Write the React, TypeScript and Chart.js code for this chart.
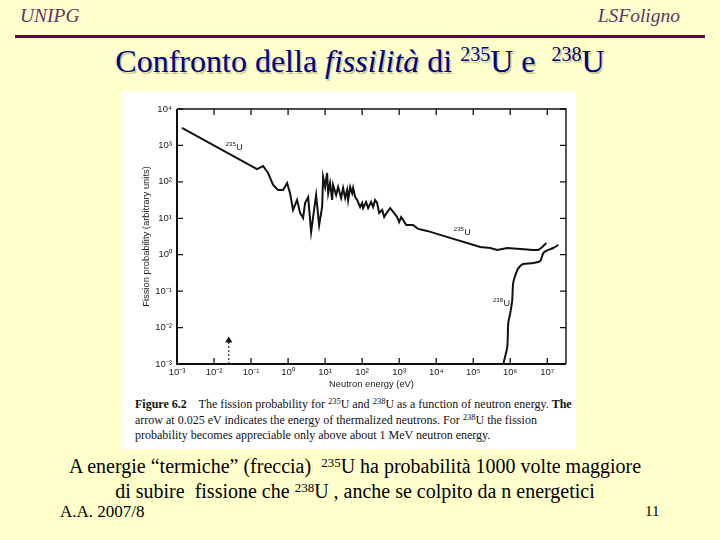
import React, { useEffect, useRef } from "react";
import { Chart, registerables } from "chart.js";

Chart.register(...registerables);

// ---- data (energy in eV, fission probability in arbitrary units) ----
const energyU235 = [1.36e-3, 0.145, 0.211, 0.288, 0.394, 0.537, 0.733, 0.94, 1.13, 1.36, 1.75, 2.11, 2.54, 2.88, 3.48, 4.19, 4.74, 5.71, 6.89, 8.3, 8.83, 10, 11.3, 12.1, 13.6, 15.5, 16.4, 19.8, 22.4, 27, 30.6, 34.8, 39.4, 41.9, 47.4, 53.7, 57.1, 64.7, 73.3, 88.3, 100, 106, 128, 145, 175, 198, 224, 254, 288, 348, 394, 474, 571, 689, 883, 1000, 1130, 1280, 1550, 2390, 3270, 5710, 12800, 1.55e5, 2.88e5, 4.46e5, 8.3e5, 1.86e6, 4.19e6, 5.71e6, 7.33e6, 9.4e6];
const probU235 = [3020, 225, 272, 175, 82, 60, 60, 93, 49, 16.9, 31.8, 14.0, 10.2, 26.3, 38.4, 4.2, 10.8, 43.6, 6.5, 20.4, 136, 72, 175, 49, 93, 31.8, 82, 43.6, 72, 36, 68, 36, 60, 31.8, 72, 49, 68, 38.4, 31.8, 20.4, 26.3, 19.1, 28, 19.1, 28, 20.4, 31.8, 26.3, 14, 16.9, 10.8, 14.9, 19.1, 14.9, 10.8, 7.9, 10.8, 9.0, 6.5, 6.5, 5.1, 4.5, 3.5, 1.63, 1.53, 1.35, 1.53, 1.44, 1.35, 1.35, 1.63, 2.1];

const energyU238 = [6.47e5, 8.3e5, 8.83e5, 1e6, 1.13e6, 1.2e6, 1.55e6, 1.86e6, 2.24e6, 4.19e6, 6.47e6, 7.8e6, 1.06e7, 1.45e7, 1.98e7];
const probU238 = [1e-3, 2.9e-3, 0.0134, 0.025, 0.057, 0.167, 0.38, 0.49, 0.556, 0.59, 0.67, 1.11, 1.35, 1.53, 1.85];

const arrowEnergy = [0.025, 0.025];
const arrowProb = [1e-3, 4.4e-3];

const xTickValues = [1e-3, 1e-2, 1e-1, 1e0, 1e1, 1e2, 1e3, 1e4, 1e5, 1e6, 1e7];
const xTickLabels = ["10⁻³", "10⁻²", "10⁻¹", "10⁰", "10¹", "10²", "10³", "10⁴", "10⁵", "10⁶", "10⁷"];
const yTickValues = [1e-3, 1e-2, 1e-1, 1e0, 1e1, 1e2, 1e3, 1e4];
const yTickLabels = ["10⁻³", "10⁻²", "10⁻¹", "10⁰", "10¹", "10²", "10³", "10⁴"];

const curveLabels = [
  { mass: "235", sym: "U", x: 0.0347, y: 906 },
  { mass: "235", sym: "U", x: 5.0e4, y: 4.2 },
  { mass: "238", sym: "U", x: 5.7e5, y: 0.047 },
];

const xMin = 1e-3;
const xMax = 3.2e7;
const yMin = 1e-3;
const yMax = 1e4;

const SANS = '"Liberation Sans", Arial, sans-serif';
const SERIF = '"Liberation Serif", "DejaVu Serif", "Times New Roman", Times, serif';

const zip = (xs: number[], ys: number[]) => xs.map((x, i) => ({ x, y: ys[i] }));

const framePlugin = {
  id: "frame",
  afterDatasetsDraw(chart: any) {
    const { ctx, chartArea, scales } = chart;
    const { left, right, top, bottom } = chartArea;
    const xs = scales.x;
    const ys = scales.y;
    ctx.save();
    ctx.strokeStyle = "#111";
    ctx.lineCap = "butt";
    ctx.lineWidth = 1.4;
    ctx.beginPath();
    ctx.moveTo(left, top);
    ctx.lineTo(right, top);
    ctx.lineTo(right, bottom);
    ctx.stroke();
    ctx.lineWidth = 2;
    ctx.beginPath();
    ctx.moveTo(left, top);
    ctx.lineTo(left, bottom);
    ctx.lineTo(right, bottom);
    ctx.stroke();
    ctx.lineWidth = 1.3;
    const tl = 6;
    ctx.beginPath();
    xTickValues.forEach((v) => {
      const px = xs.getPixelForValue(v);
      ctx.moveTo(px, bottom);
      ctx.lineTo(px, bottom - tl);
      ctx.moveTo(px, top);
      ctx.lineTo(px, top + tl);
    });
    yTickValues.forEach((v) => {
      const py = ys.getPixelForValue(v);
      ctx.moveTo(left, py);
      ctx.lineTo(left + tl, py);
      ctx.moveTo(right, py);
      ctx.lineTo(right - tl, py);
    });
    ctx.stroke();
    ctx.fillStyle = "#222";
    ctx.textBaseline = "middle";
    ctx.textAlign = "left";
    curveLabels.forEach((l) => {
      const px = xs.getPixelForValue(l.x);
      const py = ys.getPixelForValue(l.y);
      ctx.font = `6px ${SANS}`;
      const w1 = ctx.measureText(l.mass).width;
      ctx.font = `9px ${SANS}`;
      const w2 = ctx.measureText(l.sym).width;
      const sx = px - (w1 + w2) / 2;
      ctx.font = `6px ${SANS}`;
      ctx.fillText(l.mass, sx, py - 2.5);
      ctx.font = `9px ${SANS}`;
      ctx.fillText(l.sym, sx + w1 + 0.5, py + 0.5);
    });
    ctx.restore();
  },
};

function FissionChart() {
  const ref = useRef<HTMLCanvasElement | null>(null);
  useEffect(() => {
    if (!ref.current) return;
    const chart = new Chart(ref.current, {
      type: "scatter",
      data: {
        datasets: [
          {
            label: "235U",
            data: zip(energyU235, probU235),
            showLine: true,
            borderColor: "#111",
            borderWidth: 2,
            pointRadius: 0,
            tension: 0,
          },
          {
            label: "238U",
            data: zip(energyU238, probU238),
            showLine: true,
            borderColor: "#111",
            borderWidth: 2,
            pointRadius: 0,
            tension: 0.2,
          },
          {
            label: "thermal",
            data: zip(arrowEnergy, arrowProb),
            showLine: true,
            borderColor: "#222",
            borderWidth: 1.1,
            borderDash: [2, 2],
            pointRadius: [0, 3],
            pointStyle: "triangle",
            pointBackgroundColor: "#111",
            pointBorderColor: "#111",
          },
        ],
      },
      options: {
        animation: false,
        responsive: false,
        maintainAspectRatio: false,
        layout: { padding: { left: 0, top: 19, right: 10, bottom: 0 } },
        plugins: {
          legend: { display: false },
          tooltip: { enabled: false },
        },
        scales: {
          x: {
            type: "logarithmic",
            min: xMin,
            max: xMax,
            grid: { display: false, drawTicks: false },
            border: { display: false },
            afterBuildTicks: (s: any) => {
              s.ticks = xTickValues.map((v) => ({ value: v }));
            },
            afterFit: (s: any) => {
              s.height = 26;
            },
            ticks: {
              autoSkip: false,
              maxRotation: 0,
              padding: 3,
              color: "#222",
              font: { family: SANS, size: 9.5 },
              callback: (_v: any, i: number) => xTickLabels[i],
            },
            title: {
              display: true,
              text: "Neutron energy (eV)",
              color: "#222",
              font: { family: SANS, size: 9.4 },
              padding: { top: 0, bottom: 0 },
            },
          },
          y: {
            type: "logarithmic",
            min: yMin,
            max: yMax,
            grid: { display: false, drawTicks: false },
            border: { display: false },
            afterBuildTicks: (s: any) => {
              s.ticks = yTickValues.map((v) => ({ value: v }));
            },
            afterFit: (s: any) => {
              s.width = 57;
            },
            ticks: {
              autoSkip: false,
              padding: 5,
              color: "#222",
              font: { family: SANS, size: 9.5 },
              callback: (_v: any, i: number) => yTickLabels[i],
            },
            title: {
              display: true,
              text: "Fission probability (arbitrary units)",
              color: "#222",
              font: { family: SANS, size: 9.4 },
              padding: { top: 21, bottom: 0 },
            },
          },
        },
      },
      plugins: [framePlugin],
    } as any);
    return () => chart.destroy();
  }, []);
  return <canvas ref={ref} width={456} height={300} style={{ position: "absolute", left: 0, top: 0, width: 456, height: 300 }} />;
}

const sup = (t: string, size: number, raise: number) => (
  <span style={{ fontSize: size, position: "relative", top: -raise }}>{t}</span>
);

export default function App() {
  return (
    <div style={{ position: "fixed", left: 0, top: 0, width: 720, height: 540, background: "#FFFFCC", overflow: "hidden", fontFamily: SERIF }}>
      <div style={{ position: "absolute", left: 20, top: 5, fontSize: 19.5, fontStyle: "italic", color: "#663366", lineHeight: "22px", fontFamily: SERIF }}>UNIPG</div>
      <div style={{ position: "absolute", right: 40, top: 5, fontSize: 19.5, fontStyle: "italic", color: "#663366", lineHeight: "22px", fontFamily: SERIF }}>LSFoligno</div>
      <div style={{ position: "absolute", left: 15, top: 35, width: 690, height: 3, background: "#660066" }} />
      <div style={{ position: "absolute", left: 0, top: 43, width: 720, textAlign: "center", fontSize: 32, lineHeight: "36px", color: "#000080", textShadow: "1.5px 1.5px 0 rgba(0,0,0,0.22)", whiteSpace: "nowrap", fontFamily: SERIF }}>
        Confronto della <i>fissilità</i> di {sup("235", 20, 11)}U e&nbsp; {sup("238", 20, 11)}U
      </div>

      <div style={{ position: "absolute", left: 122, top: 91, width: 454, height: 358, background: "#FFFFFF" }}>
        <div style={{ position: "absolute", left: -2, top: -1, width: 456, height: 300 }}>
          <FissionChart />
        </div>
        <div style={{ position: "absolute", left: 13, top: 306, fontSize: 12, lineHeight: "14.5px", color: "#111", whiteSpace: "nowrap", fontFamily: SERIF }}>
          <div><b>Figure 6.2</b>&nbsp;&nbsp;&nbsp; The fission probability for {sup("235", 8.5, 4)}U and {sup("238", 8.5, 4)}U as a function of neutron energy. <b>The</b></div>
          <div>arrow at 0.025 eV indicates the energy of thermalized neutrons. For {sup("238", 8.5, 4)}U the fission</div>
          <div>probability becomes appreciable only above about 1 MeV neutron energy.</div>
        </div>
      </div>

      <div style={{ position: "absolute", left: 0, top: 455, width: 710, textAlign: "center", fontSize: 20, lineHeight: "23px", color: "#000", whiteSpace: "nowrap", fontFamily: SERIF }}>
        <div>A energie “termiche” (freccia)&nbsp; {sup("235", 13, 6)}U ha probabilità 1000 volte maggiore</div>
        <div>di subire&nbsp; fissione che {sup("238", 13, 6)}U , anche se colpito da n energetici</div>
      </div>
      <div style={{ position: "absolute", left: 60, top: 502, fontSize: 17, lineHeight: "19px", color: "#000", fontFamily: SERIF }}>A.A. 2007/8</div>
      <div style={{ position: "absolute", left: 645, top: 502, fontSize: 15, lineHeight: "19px", color: "#000", fontFamily: SERIF }}>11</div>
    </div>
  );
}
